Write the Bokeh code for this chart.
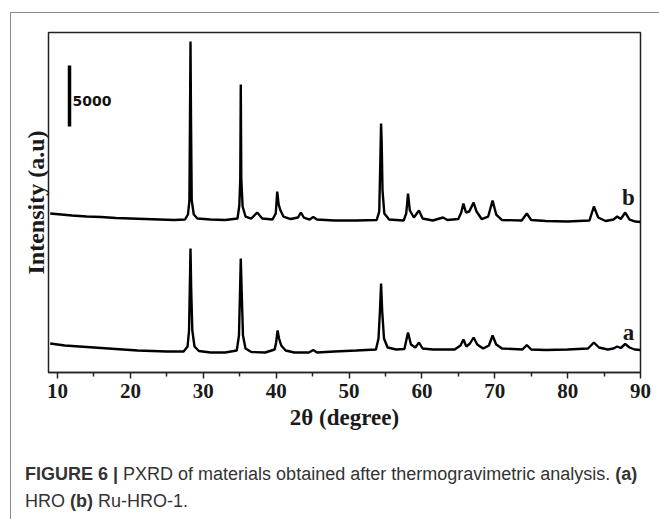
from bokeh.plotting import figure
from bokeh.models import Range1d, Label, FixedTicker, ColumnDataSource, Div, InlineStyleSheet
from bokeh.layouts import column
from bokeh.embed import file_html
from bokeh.resources import INLINE

# ---------------- data ----------------
# curve a : HRO  (2theta in degrees, intensity in counts)
a_2theta = [9.0, 11.0, 13.0, 15.0, 17.0, 19.0, 21.0, 23.0, 25.0, 27.3,
            27.85, 28.05, 28.15, 28.25, 28.35, 28.5, 28.8, 29.4, 31.0, 33.0,
            34.6, 34.9, 35.05, 35.15, 35.27, 35.45, 35.8, 36.6, 38.5, 39.8,
            40.0, 40.2, 40.4, 40.7, 41.3, 42.5, 44.5, 45.1, 45.6, 48.0,
            51.0, 53.7, 54.05, 54.25, 54.4, 54.55, 54.8, 55.3, 56.5, 57.6,
            58.1, 58.5, 59.1, 59.6, 60.1, 61.5, 64.5, 65.3, 65.7, 66.1,
            66.6, 67.1, 67.6, 68.4, 69.2, 69.7, 70.2, 71.0, 73.8, 74.4,
            75.0, 77.0, 80.0, 82.8, 83.6, 84.3, 85.5, 86.3, 86.8, 87.3,
            87.9, 88.5, 89.2, 90.0]
a_intensity = [2378, 2214, 2132, 2050, 1968, 1886, 1804, 1763, 1722, 1722,
               2132, 3444, 6724, 10168, 6724, 3444, 2132, 1763, 1640, 1640,
               1804, 3034, 6724, 9348, 6724, 3034, 1968, 1681, 1640, 1886,
               2460, 3444, 2788, 2214, 1804, 1640, 1640, 1845, 1640, 1722,
               1804, 1886, 2788, 5084, 7298, 5084, 2788, 2050, 1886, 1927,
               3280, 2296, 2050, 2460, 1968, 1886, 1886, 2214, 2706, 2132,
               2378, 2870, 2296, 1968, 2214, 3034, 2296, 1968, 1886, 2255,
               1886, 1845, 1886, 1968, 2460, 2050, 1886, 1968, 2132, 2009,
               2337, 2050, 1886, 1845]

# curve b : Ru-HRO-1
b_2theta = [9.0, 10.5, 12.0, 14.0, 16.0, 18.0, 20.0, 22.0, 24.0, 26.0,
            27.5, 27.9, 28.1, 28.18, 28.25, 28.32, 28.42, 28.7, 29.2, 31.0,
            33.0, 34.7, 34.95, 35.08, 35.15, 35.22, 35.4, 35.8, 36.6, 37.4,
            38.1, 39.5, 39.95, 40.15, 40.35, 40.6, 41.0, 42.0, 43.0, 43.4,
            43.8, 44.6, 45.1, 45.6, 48.0, 51.0, 53.8, 54.15, 54.3, 54.4,
            54.48, 54.6, 54.85, 55.5, 57.5, 57.85, 58.1, 58.35, 58.9, 59.6,
            60.1, 61.5, 62.9, 63.5, 65.0, 65.4, 65.7, 66.05, 66.5, 67.1,
            67.5, 68.2, 69.1, 69.7, 70.2, 71.0, 73.7, 74.4, 75.0, 77.0,
            80.0, 83.0, 83.6, 84.2, 85.2, 86.3, 86.8, 87.3, 87.9, 88.5,
            89.3, 90.0]
b_intensity = [2337, 2255, 2173, 2091, 2050, 1968, 1927, 1886, 1845, 1804,
               1845, 2255, 3403, 10127, 16441, 10127, 3403, 2255, 1927, 1845,
               1804, 1927, 2993, 5207, 12915, 5207, 2911, 2091, 1927, 2419,
               1927, 1845, 2337, 4141, 3075, 2583, 2091, 1886, 2009, 2419,
               2009, 1845, 2050, 1845, 1763, 1763, 1804, 2501, 6683, 9717,
               8323, 4223, 2337, 1845, 1763, 2337, 3977, 2583, 2009, 2583,
               1927, 1763, 2009, 1804, 1886, 2419, 3157, 2419, 2501, 3239,
               2501, 1886, 2091, 3403, 2255, 1804, 1763, 2337, 1804, 1722,
               1681, 1763, 2911, 2009, 1722, 1845, 2091, 1886, 2419, 1845,
               1681, 1640]

b_offset = 10700            # vertical stacking offset of curve b (counts)
scale_bar_counts = 5000     # length of the intensity scale bar

x_ticks = [10, 20, 30, 40, 50, 60, 70, 80, 90]
x_minor_ticks = [15, 25, 35, 45, 55, 65, 75, 85]

# ---------------- layout helpers ----------------
W, H_FIG, H_CAP = 659, 440, 79
X0, X1 = 8.765, 90.0
Y0, Y1 = 0, 27880
FL, FR, FT, FB = 48, 640, 32, 372   # frame edges in page pixels


def sx(px):
    return X0 + (px - FL) * (X1 - X0) / (FR - FL)


def sy(py):
    return Y0 + (FB - py) * (Y1 - Y0) / (FB - FT)


p = figure(width=W, height=H_FIG, output_backend="svg", toolbar_location=None,
           x_range=Range1d(X0, X1), y_range=Range1d(Y0, Y1),
           min_border_left=FL, min_border_right=W - FR,
           min_border_top=FT, min_border_bottom=H_FIG - FB)
p.background_fill_color = "white"
p.border_fill_color = "white"
p.outline_line_color = "#222222"
p.outline_line_width = 1.5
p.grid.visible = False

ax = p.xaxis[0]
ax.ticker = FixedTicker(ticks=x_ticks, minor_ticks=x_minor_ticks)
ax.axis_line_color = "#222222"
ax.axis_line_width = 1.5
ax.major_tick_line_color = "#222222"
ax.major_tick_line_width = 1.5
ax.major_tick_in = 0
ax.major_tick_out = 6
ax.minor_tick_line_color = "#222222"
ax.minor_tick_line_width = 1.5
ax.minor_tick_in = 0
ax.minor_tick_out = 4
ax.major_label_text_font = "Liberation Serif"
ax.major_label_text_font_style = "bold"
ax.major_label_text_font_size = "21px"
ax.major_label_text_color = "#1a1a1a"
ax.major_label_standoff = 5
ax.axis_label = "2θ (degree)"
ax.axis_label_text_font = "Liberation Serif"
ax.axis_label_text_font_style = "bold"
ax.axis_label_text_font_size = "23px"
ax.axis_label_text_color = "#1a1a1a"
ax.axis_label_standoff = 4

ay = p.yaxis[0]
ay.ticker = FixedTicker(ticks=[])
ay.axis_line_color = None
ay.major_tick_line_color = None
ay.minor_tick_line_color = None
ay.major_label_text_font_size = "0px"
ay.axis_label = "Intensity (a.u)"
ay.axis_label_text_font = "Liberation Serif"
ay.axis_label_text_font_style = "bold"
ay.axis_label_text_font_size = "24px"
ay.axis_label_text_color = "#1a1a1a"
ay.axis_label_standoff = 0

src_a = ColumnDataSource(dict(x=a_2theta, y=a_intensity))
src_b = ColumnDataSource(dict(x=b_2theta, y=[v + b_offset for v in b_intensity]))
p.line("x", "y", source=src_a, line_color="black", line_width=2.4)
p.line("x", "y", source=src_b, line_color="black", line_width=2.4)

# scale bar
bar_x = sx(69)
bar_y0 = sy(126)
p.segment(x0=[bar_x], y0=[bar_y0], x1=[bar_x], y1=[bar_y0 + scale_bar_counts],
          line_color="black", line_width=3.5)
p.add_layout(Label(x=sx(72), y=sy(100), text="5000", text_font="DejaVu Sans",
                   text_font_style="bold", text_font_size="14px",
                   text_align="left", text_baseline="middle", text_color="#111111"))

# curve labels
for t, py in (("b", 197), ("a", 332)):
    p.add_layout(Label(x=sx(628), y=sy(py), text=t, text_font="Liberation Serif",
                       text_font_style="bold", text_font_size="23px",
                       text_align="center", text_baseline="middle", text_color="#1a1a1a"))

# caption below the chart
caption = Div(
    text=("<b>FIGURE 6 |</b> PXRD of materials obtained after thermogravimetric analysis. "
          "<b>(a)</b><br>HRO <b>(b)</b> Ru-HRO-1."),
    width=W, height=H_CAP,
    styles={"font-family": "'Liberation Sans', Arial, sans-serif", "font-size": "18px",
            "color": "#333333", "line-height": "27px", "white-space": "nowrap",
            "padding-left": "20px", "padding-top": "16px", "box-sizing": "border-box",
            "background": "white"},
)

frame_css = InlineStyleSheet(css="""
:host { position: relative; }
:host::after {
  content: "";
  position: absolute;
  left: 10px; top: 12px; right: 0; bottom: 0;
  border-top: 1.5px solid #8a8a8a;
  border-left: 1.5px solid #8a8a8a;
  pointer-events: none;
  z-index: 100;
}
""")

layout = column(p, caption, width=W, height=H_FIG + H_CAP, spacing=0,
                stylesheets=[frame_css])

open("out.html", "w").write(file_html(layout, INLINE))
